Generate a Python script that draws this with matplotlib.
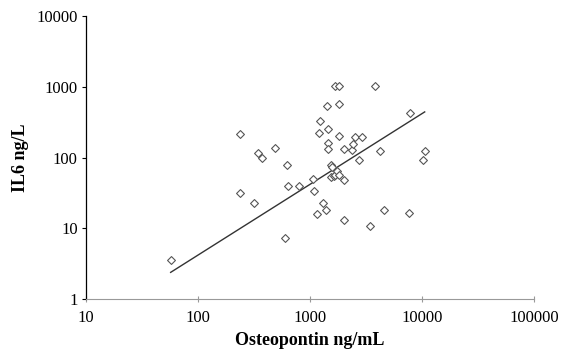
import matplotlib
matplotlib.use("Agg")
import matplotlib.pyplot as plt
from matplotlib.ticker import FixedLocator, FixedFormatter, NullLocator

plt.rcParams["font.family"] = ["Liberation Serif", "DejaVu Serif"]

# Osteopontin (ng/mL) vs IL6 (ng/L)
osteopontin = [57, 239, 239, 319, 346, 372, 489, 624, 638, 597,
               790, 1062, 1084, 1143, 1294, 1383, 1230, 1211, 1413, 1455,
               1455, 1434, 1534, 1557, 1534, 1626, 1673, 1687, 1803, 1817,
               1803, 1750, 1803, 2014, 2014, 2014, 2352, 2439, 2529, 2931,
               2765, 3449, 3795, 4178, 4564, 7586, 7762, 10260, 10570]
il6 = [3.55, 218, 31.7, 22.4, 115, 96.8, 137, 78.8, 39.8, 7.18,
       39.0, 50.0, 33.1, 16.0, 22.4, 18.1, 333, 225, 531, 254,
       158, 130, 78.8, 73.8, 53.3, 55.0, 57.0, 1016, 1040, 566,
       202, 64.8, 57.0, 131, 47.4, 13.0, 127, 154, 196, 198,
       92.7, 10.7, 1016, 124, 18.4, 16.5, 427, 90.7, 123]

# trend line end points
trend_x = [57, 10570]
trend_y = [2.38, 441]

x_ticks = [10, 100, 1000, 10000, 100000]
x_labels = ["10", "100", "1000", "10000", "100000"]
y_ticks = [1, 10, 100, 1000, 10000]
y_labels = ["1", "10", "100", "1000", "10000"]

fig = plt.figure(figsize=(5.61, 3.54), dpi=100)
ax = fig.add_axes([86 / 561, 1 - 299 / 354, (534 - 86) / 561, (299 - 16) / 354])

ax.scatter(osteopontin, il6, marker="D", s=16, facecolors="white",
           edgecolors="#555555", linewidths=0.8, zorder=3)
ax.plot(trend_x, trend_y, color="#333333", linewidth=1.0, zorder=2)

ax.set_xscale("log")
ax.set_yscale("log")
ax.set_xlim(10, 100000)
ax.set_ylim(1, 10000)

ax.xaxis.set_major_locator(FixedLocator(x_ticks))
ax.xaxis.set_major_formatter(FixedFormatter(x_labels))
ax.yaxis.set_major_locator(FixedLocator(y_ticks))
ax.yaxis.set_major_formatter(FixedFormatter(y_labels))
ax.xaxis.set_minor_locator(NullLocator())
ax.yaxis.set_minor_locator(NullLocator())

for side in ["top", "right"]:
    ax.spines[side].set_visible(False)
ax.spines["bottom"].set_color("#999999")
ax.spines["left"].set_color("black")
ax.spines["left"].set_linewidth(0.9)

ax.tick_params(axis="x", direction="inout", length=4, color="#999999",
               labelsize=12, pad=6)
ax.tick_params(axis="y", direction="out", length=3, color="black",
               labelsize=12, pad=3)

ax.set_xlabel("Osteopontin ng/mL", fontsize=13, fontweight="bold", labelpad=4)
ax.set_ylabel("IL6 ng/L", fontsize=13, fontweight="bold", labelpad=5)

fig.savefig("out.png", dpi=100)
